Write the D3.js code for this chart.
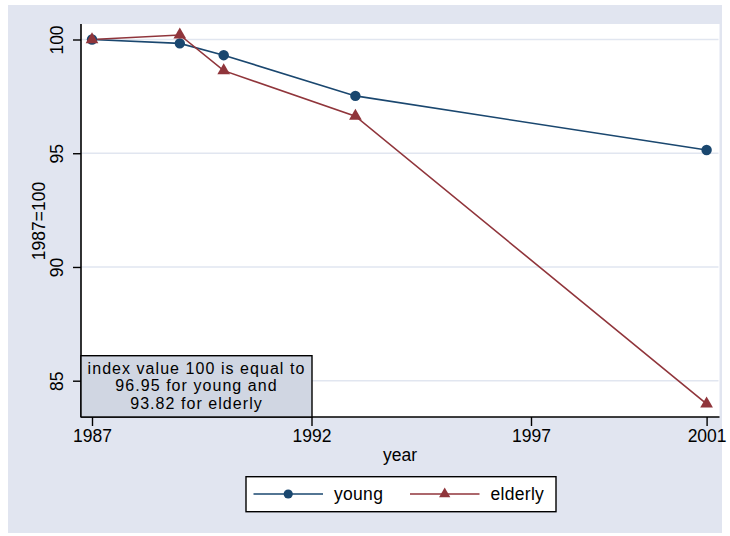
<!DOCTYPE html>
<html lang="en">
<head>
<meta charset="UTF-8">
<title>index 1987=100</title>
<script src="https://d3js.org/d3.v7.min.js"></script>
<style>
body { margin: 0; background: #fff; }
svg text { font-family: "Liberation Sans", Arial, sans-serif; fill: #000; }
</style>
</head>
<body>
<div id="chart"></div>
<script>
// data
var years = [1987, 1989, 1990, 1993, 2001];
var young = [100, 99.83, 99.31, 97.52, 95.14];
var elderly = [100, 100.2, 98.63, 96.63, 83.98];
var xTicks = [1987, 1992, 1997, 2001];
var yTicks = [85, 90, 95, 100];
var noteLines = ["index value 100 is equal to", "96.95 for young and", "93.82 for elderly"];

var W = 730, H = 536;
var plot = { left: 81, right: 719.5, top: 24, bottom: 417 };
var navy = "#1a476f", maroon = "#90353b";
var fs = 17.5;

var svg = d3.select("#chart").append("svg")
    .attr("width", W).attr("height", H);

// outer graph region
svg.append("rect").attr("x", 8).attr("y", 5).attr("width", 714).attr("height", 528)
    .attr("fill", "#e1e5f0");
// plot region
svg.append("rect").attr("x", plot.left).attr("y", plot.top)
    .attr("width", plot.right - plot.left).attr("height", plot.bottom - plot.top)
    .attr("fill", "#fff");

var x = d3.scaleLinear().domain([1987, 2001]).range([92, 706.6]);
var y = d3.scaleLinear().domain([85, 100]).range([380.7, 39.5]);

// grid lines
svg.append("g").selectAll("line").data(yTicks).enter().append("line")
    .attr("x1", plot.left).attr("x2", plot.right - 1)
    .attr("y1", d => y(d)).attr("y2", d => y(d))
    .attr("stroke", "#e1e6f0").attr("stroke-width", 1.5);

// axes
var yAxis = svg.append("g").attr("transform", "translate(" + plot.left + ",0)")
    .call(d3.axisLeft(y).tickValues(yTicks).tickSize(8).tickPadding(6).tickFormat(d3.format("d")));
yAxis.select(".domain").attr("d", "M0," + plot.top + "V" + plot.bottom)
    .attr("stroke", "#000").attr("stroke-width", 1.6);
yAxis.selectAll(".tick line").attr("stroke", "#000").attr("stroke-width", 1.4);
yAxis.selectAll(".tick text")
    .attr("font-size", fs).attr("text-anchor", "middle")
    .attr("x", null).attr("dy", null)
    .attr("transform", "translate(-24,0) rotate(-90)")
    .attr("dominant-baseline", "central");

var xAxis = svg.append("g").attr("transform", "translate(0," + plot.bottom + ")")
    .call(d3.axisBottom(x).tickValues(xTicks).tickSize(9).tickPadding(4).tickFormat(d3.format("d")));
xAxis.select(".domain").attr("d", "M" + plot.left + ",0H" + plot.right)
    .attr("stroke", "#000").attr("stroke-width", 1.6);
xAxis.selectAll(".tick line").attr("stroke", "#000").attr("stroke-width", 1.4);
xAxis.selectAll(".tick text").attr("font-size", fs);

// axis titles
svg.append("text").attr("x", 400).attr("y", 461).attr("text-anchor", "middle")
    .attr("font-size", fs).text("year");
svg.append("text").attr("transform", "translate(45,221) rotate(-90)")
    .attr("text-anchor", "middle").attr("font-size", fs).text("1987=100");

// note box
var note = svg.append("g");
note.append("rect").attr("x", plot.left).attr("y", 355.7)
    .attr("width", 312 - plot.left).attr("height", plot.bottom - 355.7)
    .attr("fill", "#d0d6e2").attr("stroke", "#000").attr("stroke-width", 1.4);
note.selectAll("text").data(noteLines).enter().append("text")
    .attr("x", 196.5).attr("y", (d, i) => 373.5 + i * 17.5)
    .attr("text-anchor", "middle").attr("font-size", 16)
    .attr("letter-spacing", 1.05)
    .text(d => d);

// lines
var line = d3.line().x(d => x(d[0])).y(d => y(d[1]));
var youngPts = years.map((yr, i) => [yr, young[i]]);
var elderlyPts = years.map((yr, i) => [yr, elderly[i]]);

svg.append("path").datum(youngPts).attr("d", line)
    .attr("fill", "none").attr("stroke", navy).attr("stroke-width", 1.6);
svg.append("path").datum(elderlyPts).attr("d", line)
    .attr("fill", "none").attr("stroke", maroon).attr("stroke-width", 1.6);

var tri = d3.symbol().type(d3.symbolTriangle).size(70);

svg.append("g").selectAll("circle").data(youngPts).enter().append("circle")
    .attr("cx", d => x(d[0])).attr("cy", d => y(d[1])).attr("r", 5.2)
    .attr("fill", navy);
svg.append("g").selectAll("path").data(elderlyPts).enter().append("path")
    .attr("d", tri)
    .attr("transform", d => "translate(" + x(d[0]) + "," + y(d[1]) + ")")
    .attr("fill", maroon);

// legend
var leg = svg.append("g");
leg.append("rect").attr("x", 246).attr("y", 476.7).attr("width", 310).attr("height", 35)
    .attr("fill", "#fff").attr("stroke", "#000").attr("stroke-width", 1.4);
var legItems = [
    { name: "young", color: navy, x0: 253.5, type: "circle" },
    { name: "elderly", color: maroon, x0: 410, type: "tri" }
];
var ly = 494;
legItems.forEach(function(it) {
    leg.append("line").attr("x1", it.x0).attr("x2", it.x0 + 69.5)
        .attr("y1", ly).attr("y2", ly).attr("stroke", it.color).attr("stroke-width", 1.4);
    if (it.type === "circle") {
        leg.append("circle").attr("cx", it.x0 + 34.7).attr("cy", ly).attr("r", 4.6).attr("fill", it.color);
    } else {
        leg.append("path").attr("d", d3.symbol().type(d3.symbolTriangle).size(55))
            .attr("transform", "translate(" + (it.x0 + 34.7) + "," + ly + ")").attr("fill", it.color);
    }
    leg.append("text").attr("x", it.x0 + 80.5).attr("y", ly).attr("dy", "0.35em")
        .attr("font-size", fs).attr("letter-spacing", 0.3).text(it.name);
});
</script>
</body>
</html>
